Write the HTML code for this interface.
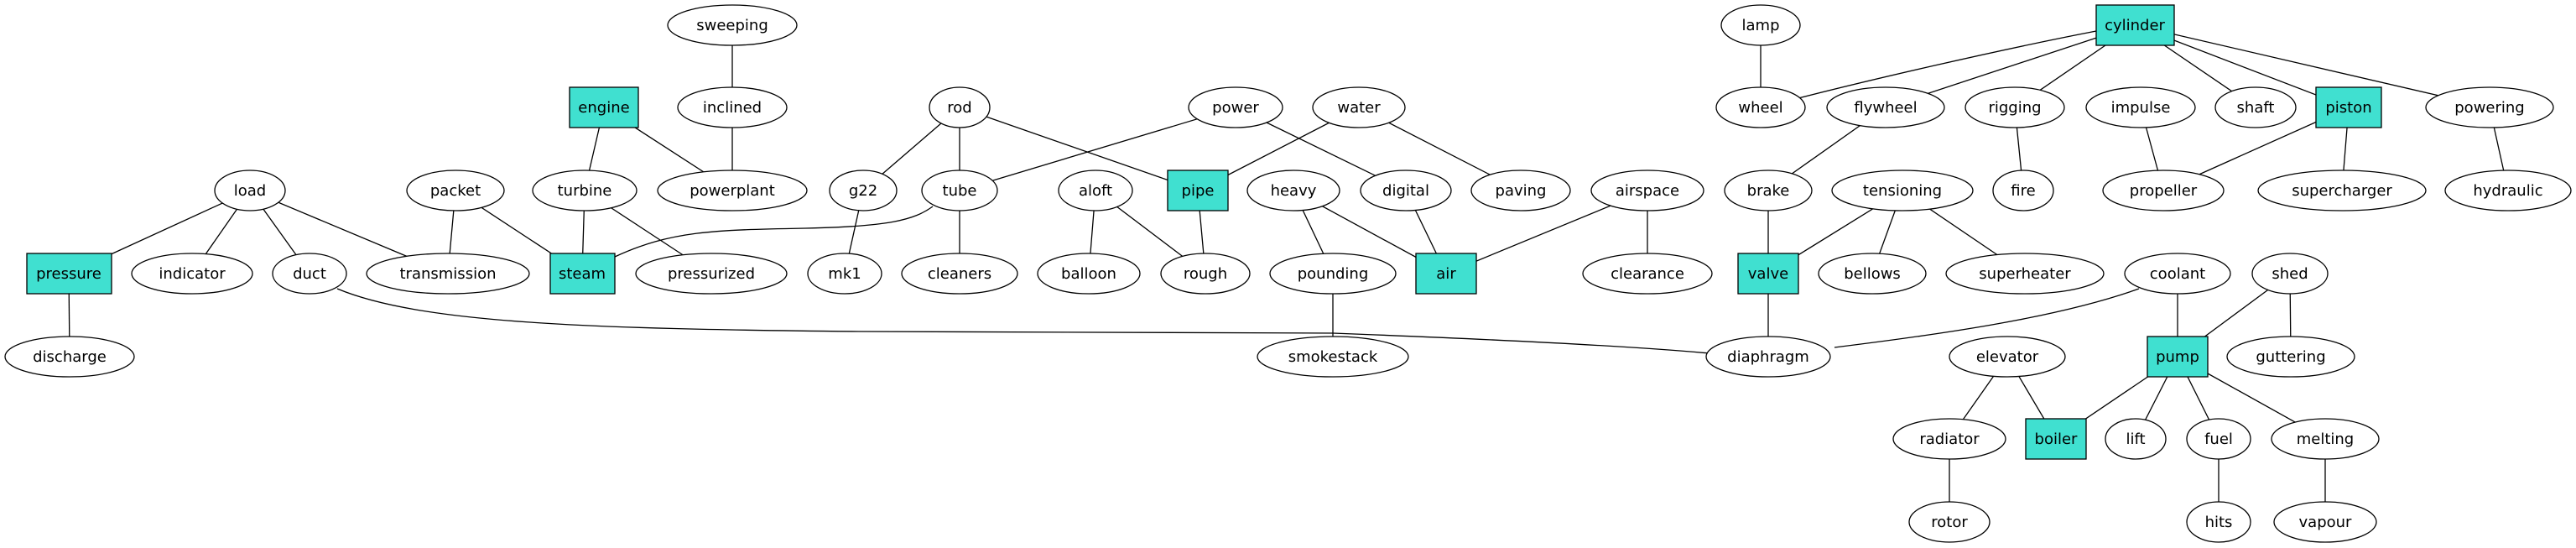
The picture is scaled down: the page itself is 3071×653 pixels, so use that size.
<!DOCTYPE html>
<html><head><meta charset="utf-8"><style>
html,body{margin:0;padding:0;background:#fff;}
svg{display:block;}
text{font-family:"DejaVu Sans","Liberation Sans",sans-serif;font-size:18px;text-anchor:middle;fill:#000;}
ellipse{fill:#fff;stroke:#000;stroke-width:1.3;}
rect{fill:#40e0d0;stroke:#000;stroke-width:1.3;}
line,path{stroke:#000;stroke-width:1.3;fill:none;}
</style></head><body>
<svg width="3071" height="653" viewBox="0 0 3071 653" xmlns="http://www.w3.org/2000/svg">
<g>
<line x1="873" y1="30" x2="873" y2="128"/>
<line x1="873" y1="128" x2="873" y2="227"/>
<line x1="720" y1="128" x2="697" y2="227"/>
<line x1="720" y1="128" x2="873" y2="227"/>
<line x1="298" y1="227" x2="82" y2="326"/>
<line x1="298" y1="227" x2="229" y2="326"/>
<line x1="298" y1="227" x2="369" y2="326"/>
<line x1="298" y1="227" x2="534" y2="326"/>
<line x1="543" y1="227" x2="534" y2="326"/>
<line x1="543" y1="227" x2="694" y2="326"/>
<line x1="697" y1="227" x2="694" y2="326"/>
<line x1="697" y1="227" x2="848" y2="326"/>
<line x1="82" y1="326" x2="83" y2="425"/>
<path d="M733 306 C800 275,850 274,960 272 C1060 270,1090 262,1112 246"/>
<path d="M402 344 C500 385,700 392,1024 395 L1589 397 C1800 405,1950 413,2038 421"/>
<line x1="1144" y1="128" x2="1029" y2="227"/>
<line x1="1144" y1="128" x2="1144" y2="227"/>
<line x1="1144" y1="128" x2="1428" y2="227"/>
<line x1="1473" y1="128" x2="1144" y2="227"/>
<line x1="1473" y1="128" x2="1676" y2="227"/>
<line x1="1620" y1="128" x2="1428" y2="227"/>
<line x1="1620" y1="128" x2="1813" y2="227"/>
<line x1="1029" y1="227" x2="1007" y2="326"/>
<line x1="1144" y1="227" x2="1144" y2="326"/>
<line x1="1306" y1="227" x2="1298" y2="326"/>
<line x1="1306" y1="227" x2="1437" y2="326"/>
<line x1="1428" y1="227" x2="1437" y2="326"/>
<line x1="1542" y1="227" x2="1589" y2="326"/>
<line x1="1542" y1="227" x2="1724" y2="326"/>
<line x1="1676" y1="227" x2="1724" y2="326"/>
<line x1="1964" y1="227" x2="1724" y2="326"/>
<line x1="1964" y1="227" x2="1964" y2="326"/>
<line x1="1589" y1="326" x2="1589" y2="425"/>
<line x1="2099" y1="30" x2="2099" y2="128"/>
<path d="M2499 37 C2380 60,2230 95,2140 118"/>
<line x1="2545" y1="30" x2="2248" y2="128"/>
<line x1="2545" y1="30" x2="2402" y2="128"/>
<line x1="2545" y1="30" x2="2689" y2="128"/>
<line x1="2545" y1="30" x2="2800" y2="128"/>
<line x1="2545" y1="30" x2="2968" y2="128"/>
<line x1="2248" y1="128" x2="2108" y2="227"/>
<line x1="2402" y1="128" x2="2412" y2="227"/>
<line x1="2552" y1="128" x2="2579" y2="227"/>
<line x1="2800" y1="128" x2="2579" y2="227"/>
<line x1="2800" y1="128" x2="2792" y2="227"/>
<line x1="2968" y1="128" x2="2990" y2="227"/>
<line x1="2108" y1="227" x2="2108" y2="326"/>
<line x1="2268" y1="227" x2="2108" y2="326"/>
<line x1="2268" y1="227" x2="2232" y2="326"/>
<line x1="2268" y1="227" x2="2414" y2="326"/>
<line x1="2108" y1="326" x2="2108" y2="425"/>
<path d="M2550 344 C2450 380,2300 400,2187 414"/>
<line x1="2596" y1="326" x2="2596" y2="425"/>
<line x1="2730" y1="326" x2="2596" y2="425"/>
<line x1="2730" y1="326" x2="2731" y2="425"/>
<line x1="2393" y1="425" x2="2324" y2="523"/>
<line x1="2393" y1="425" x2="2451" y2="523"/>
<line x1="2596" y1="425" x2="2451" y2="523"/>
<line x1="2596" y1="425" x2="2546" y2="523"/>
<line x1="2596" y1="425" x2="2645" y2="523"/>
<line x1="2596" y1="425" x2="2772" y2="523"/>
<line x1="2324" y1="523" x2="2324" y2="622"/>
<line x1="2645" y1="523" x2="2645" y2="622"/>
<line x1="2772" y1="523" x2="2772" y2="622"/>
</g>
<g>
<ellipse cx="873" cy="30" rx="77" ry="24"/><text x="873" y="36">sweeping</text>
<ellipse cx="873" cy="128" rx="65" ry="24"/><text x="873" y="134">inclined</text>
<rect x="679" y="104" width="82" height="48"/><text x="720" y="134">engine</text>
<ellipse cx="298" cy="227" rx="42" ry="24"/><text x="298" y="233">load</text>
<ellipse cx="543" cy="227" rx="58" ry="24"/><text x="543" y="233">packet</text>
<ellipse cx="697" cy="227" rx="62" ry="24"/><text x="697" y="233">turbine</text>
<ellipse cx="873" cy="227" rx="89" ry="24"/><text x="873" y="233">powerplant</text>
<rect x="32" y="302" width="101" height="48"/><text x="82" y="332">pressure</text>
<ellipse cx="229" cy="326" rx="72" ry="24"/><text x="229" y="332">indicator</text>
<ellipse cx="369" cy="326" rx="44" ry="24"/><text x="369" y="332">duct</text>
<ellipse cx="534" cy="326" rx="97" ry="24"/><text x="534" y="332">transmission</text>
<rect x="656" y="302" width="77" height="48"/><text x="694" y="332">steam</text>
<ellipse cx="848" cy="326" rx="90" ry="24"/><text x="848" y="332">pressurized</text>
<ellipse cx="83" cy="425" rx="77" ry="24"/><text x="83" y="431">discharge</text>

<ellipse cx="1144" cy="128" rx="36" ry="24"/><text x="1144" y="134">rod</text>
<ellipse cx="1473" cy="128" rx="56" ry="24"/><text x="1473" y="134">power</text>
<ellipse cx="1620" cy="128" rx="55" ry="24"/><text x="1620" y="134">water</text>
<ellipse cx="1029" cy="227" rx="40" ry="24"/><text x="1029" y="233">g22</text>
<ellipse cx="1144" cy="227" rx="45" ry="24"/><text x="1144" y="233">tube</text>
<ellipse cx="1306" cy="227" rx="44" ry="24"/><text x="1306" y="233">aloft</text>
<rect x="1392" y="203" width="72" height="48"/><text x="1428" y="233">pipe</text>
<ellipse cx="1542" cy="227" rx="55" ry="24"/><text x="1542" y="233">heavy</text>
<ellipse cx="1676" cy="227" rx="54" ry="24"/><text x="1676" y="233">digital</text>
<ellipse cx="1813" cy="227" rx="59" ry="24"/><text x="1813" y="233">paving</text>
<ellipse cx="1964" cy="227" rx="67" ry="24"/><text x="1964" y="233">airspace</text>
<ellipse cx="1007" cy="326" rx="44" ry="24"/><text x="1007" y="332">mk1</text>
<ellipse cx="1144" cy="326" rx="69" ry="24"/><text x="1144" y="332">cleaners</text>
<ellipse cx="1298" cy="326" rx="61" ry="24"/><text x="1298" y="332">balloon</text>
<ellipse cx="1437" cy="326" rx="53" ry="24"/><text x="1437" y="332">rough</text>
<ellipse cx="1589" cy="326" rx="75" ry="24"/><text x="1589" y="332">pounding</text>
<rect x="1688" y="302" width="72" height="48"/><text x="1724" y="332">air</text>
<ellipse cx="1964" cy="326" rx="77" ry="24"/><text x="1964" y="332">clearance</text>
<ellipse cx="1589" cy="425" rx="90" ry="24"/><text x="1589" y="431">smokestack</text>

<ellipse cx="2099" cy="30" rx="47" ry="24"/><text x="2099" y="36">lamp</text>
<rect x="2499" y="6" width="93" height="48"/><text x="2545" y="36">cylinder</text>
<ellipse cx="2099" cy="128" rx="53" ry="24"/><text x="2099" y="134">wheel</text>
<ellipse cx="2248" cy="128" rx="70" ry="24"/><text x="2248" y="134">flywheel</text>
<ellipse cx="2402" cy="128" rx="59" ry="24"/><text x="2402" y="134">rigging</text>
<ellipse cx="2552" cy="128" rx="65" ry="24"/><text x="2552" y="134">impulse</text>
<ellipse cx="2689" cy="128" rx="48" ry="24"/><text x="2689" y="134">shaft</text>
<rect x="2761" y="104" width="78" height="48"/><text x="2800" y="134">piston</text>
<ellipse cx="2968" cy="128" rx="76" ry="24"/><text x="2968" y="134">powering</text>
<ellipse cx="2108" cy="227" rx="52" ry="24"/><text x="2108" y="233">brake</text>
<ellipse cx="2268" cy="227" rx="84" ry="24"/><text x="2268" y="233">tensioning</text>
<ellipse cx="2412" cy="227" rx="36" ry="24"/><text x="2412" y="233">fire</text>
<ellipse cx="2579" cy="227" rx="72" ry="24"/><text x="2579" y="233">propeller</text>
<ellipse cx="2792" cy="227" rx="100" ry="24"/><text x="2792" y="233">supercharger</text>
<ellipse cx="2990" cy="227" rx="75" ry="24"/><text x="2990" y="233">hydraulic</text>
<rect x="2072" y="302" width="72" height="48"/><text x="2108" y="332">valve</text>
<ellipse cx="2232" cy="326" rx="64" ry="24"/><text x="2232" y="332">bellows</text>
<ellipse cx="2414" cy="326" rx="94" ry="24"/><text x="2414" y="332">superheater</text>
<ellipse cx="2596" cy="326" rx="63" ry="24"/><text x="2596" y="332">coolant</text>
<ellipse cx="2730" cy="326" rx="45" ry="24"/><text x="2730" y="332">shed</text>
<ellipse cx="2108" cy="425" rx="74" ry="24"/><text x="2108" y="431">diaphragm</text>
<ellipse cx="2393" cy="425" rx="69" ry="24"/><text x="2393" y="431">elevator</text>
<rect x="2560" y="401" width="72" height="48"/><text x="2596" y="431">pump</text>
<ellipse cx="2731" cy="425" rx="76" ry="24"/><text x="2731" y="431">guttering</text>
<ellipse cx="2324" cy="523" rx="67" ry="24"/><text x="2324" y="529">radiator</text>
<rect x="2415" y="499" width="72" height="48"/><text x="2451" y="529">boiler</text>
<ellipse cx="2546" cy="523" rx="36" ry="24"/><text x="2546" y="529">lift</text>
<ellipse cx="2645" cy="523" rx="38" ry="24"/><text x="2645" y="529">fuel</text>
<ellipse cx="2772" cy="523" rx="64" ry="24"/><text x="2772" y="529">melting</text>
<ellipse cx="2324" cy="622" rx="48" ry="24"/><text x="2324" y="628">rotor</text>
<ellipse cx="2645" cy="622" rx="38" ry="24"/><text x="2645" y="628">hits</text>
<ellipse cx="2772" cy="622" rx="61" ry="24"/><text x="2772" y="628">vapour</text>
</g>
</svg>
</body></html>
